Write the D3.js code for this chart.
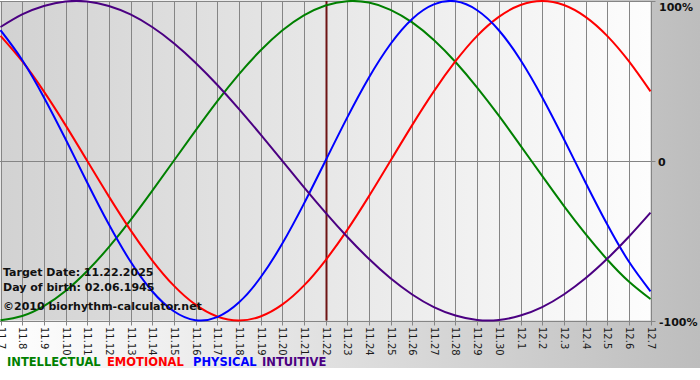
<!DOCTYPE html>
<html><head><meta charset="utf-8">
<script src="https://d3js.org/d3.v7.min.js"></script>
<style>html,body{margin:0;padding:0;background:#fff;}svg{display:block;}</style>
</head><body>
<script>
const dates = ["11.7","11.8","11.9","11.10","11.11","11.12","11.13","11.14","11.15","11.16","11.17","11.18","11.19","11.20","11.21","11.22","11.23","11.24","11.25","11.26","11.27","11.28","11.29","11.30","12.1","12.2","12.3","12.4","12.5","12.6","12.7"];
const intellectual = [-0.999,-0.972,-0.910,-0.815,-0.690,-0.541,-0.372,-0.189,0,0.189,0.372,0.541,0.690,0.815,0.910,0.972,0.999,0.990,0.945,0.866,0.756,0.618,0.458,0.282,0.095,-0.095,-0.282,-0.458,-0.618,-0.756,-0.866];
const emotional = [0.782,0.623,0.434,0.223,0,-0.223,-0.434,-0.623,-0.782,-0.901,-0.975,-1,-0.975,-0.901,-0.782,-0.623,-0.434,-0.223,0,0.223,0.434,0.623,0.782,0.901,0.975,1,0.975,0.901,0.782,0.623,0.434];
const physical = [0.817,0.631,0.398,0.136,-0.136,-0.398,-0.631,-0.817,-0.942,-0.998,-0.979,-0.888,-0.731,-0.520,-0.270,0,0.270,0.520,0.731,0.888,0.979,0.998,0.942,0.817,0.631,0.398,0.136,-0.136,-0.398,-0.631,-0.817];
const intuitive = [0.837,0.916,0.969,0.997,0.997,0.969,0.916,0.837,0.736,0.614,0.476,0.325,0.165,0,-0.165,-0.325,-0.476,-0.614,-0.736,-0.837,-0.916,-0.969,-0.997,-0.997,-0.969,-0.916,-0.837,-0.736,-0.614,-0.476,-0.325];
const seriesNames = ["INTELLECTUAL","EMOTIONAL","PHYSICAL","INTUITIVE"];
const seriesColors = ["#008000","#ff0000","#0000ff","#4b0082"];
const yTickValues = [1,0,-1];
const yTickLabels = ["100%","0","-100%"];
const targetIndex = 15;
const infoLines = ["Target Date: 11.22.2025","Day of birth: 02.06.1945","\u00a92010 biorhythm-calculator.net"];

const W=700,H=380;
const svg=d3.select("body").append("svg").attr("width",W).attr("height",H);
const defs=svg.append("defs");
const g1=defs.append("linearGradient").attr("id","outer").attr("x1","0").attr("x2","1").attr("y1","0").attr("y2","0");
g1.append("stop").attr("offset","0").attr("stop-color","#ffffff");
g1.append("stop").attr("offset","1").attr("stop-color","#bdbdbd");
const g2=defs.append("linearGradient").attr("id","plotbg").attr("x1","0").attr("x2","1").attr("y1","0").attr("y2","0");
g2.append("stop").attr("offset","0").attr("stop-color","#d2d2d2");
g2.append("stop").attr("offset","1").attr("stop-color","#fdfdfd");

svg.append("rect").attr("x",0).attr("y",0).attr("width",W).attr("height",368).attr("fill","url(#outer)");

const x=d3.scaleLinear().domain([0,dates.length-1]).range([0.5,650.5]);
const y=d3.scaleLinear().domain([-1,1]).range([320.5,1]);

svg.append("rect").attr("x",x(0)).attr("y",y(1)).attr("width",x(dates.length-1)-x(0)).attr("height",y(-1)-y(1)).attr("fill","url(#plotbg)");

// vertical grid lines
svg.append("g").selectAll("line").data(dates).join("line")
  .attr("x1",(d,i)=>Math.round(x(i))+0.5).attr("x2",(d,i)=>Math.round(x(i))+0.5)
  .attr("y1",y(1)).attr("y2",y(-1)+5)
  .attr("stroke","#858585").attr("stroke-width",1);
// horizontal lines
svg.append("g").selectAll("line").data(yTickValues).join("line")
  .attr("x1",0).attr("x2",x(dates.length-1)+5)
  .attr("y1",d=>Math.round(y(d))+0.5).attr("y2",d=>Math.round(y(d))+0.5)
  .attr("stroke","#858585").attr("stroke-width",1);

// target line
svg.append("line").attr("x1",Math.round(x(targetIndex))+0.5).attr("x2",Math.round(x(targetIndex))+0.5)
  .attr("y1",y(1)).attr("y2",y(-1)).attr("stroke","#6e1414").attr("stroke-width",2);

// curves
const allSeries=[intellectual,emotional,physical,intuitive];
const line=d3.line().x((d,i)=>x(i)).y(d=>y(d)).curve(d3.curveNatural);
svg.append("g").selectAll("path").data(allSeries).join("path")
  .attr("d",d=>line(d)).attr("fill","none")
  .attr("stroke",(d,i)=>seriesColors[i]).attr("stroke-width",2);

// x tick labels rotated
svg.append("g").selectAll("text").data(dates).join("text")
  .attr("transform",(d,i)=>`translate(${Math.round(x(i))-3.5},327) rotate(90)`)
  .attr("font-family","DejaVu Sans, Verdana, sans-serif").attr("font-size",10)
  .attr("fill","#1a1a1a").text(d=>d);

// right labels
svg.append("g").selectAll("text").data(yTickValues).join("text")
  .attr("x",(d,i)=>yTickLabels[i]==="0"?658:659)
  .attr("y",(d,i)=>i===0?11:y(d)+5.5)
  .attr("font-family","DejaVu Sans, Verdana, sans-serif").attr("font-size",11).attr("font-weight","bold")
  .attr("fill","#111").text((d,i)=>yTickLabels[i]);

// info text
svg.append("g").selectAll("text").data(infoLines).join("text")
  .attr("x",3).attr("y",(d,i)=>[276,291,310][i])
  .attr("font-family","DejaVu Sans, Verdana, sans-serif").attr("font-size",11).attr("font-weight","bold")
  .attr("fill","#111").text(d=>d);

// legend
const legX=[7,107,193,262];
svg.append("g").selectAll("text").data(seriesNames).join("text")
  .attr("x",(d,i)=>legX[i]).attr("y",366)
  .attr("font-family","DejaVu Sans, Verdana, sans-serif").attr("font-size",11.5).attr("font-weight","bold")
  .attr("fill",(d,i)=>seriesColors[i]).text(d=>d);
</script>
</body></html>
